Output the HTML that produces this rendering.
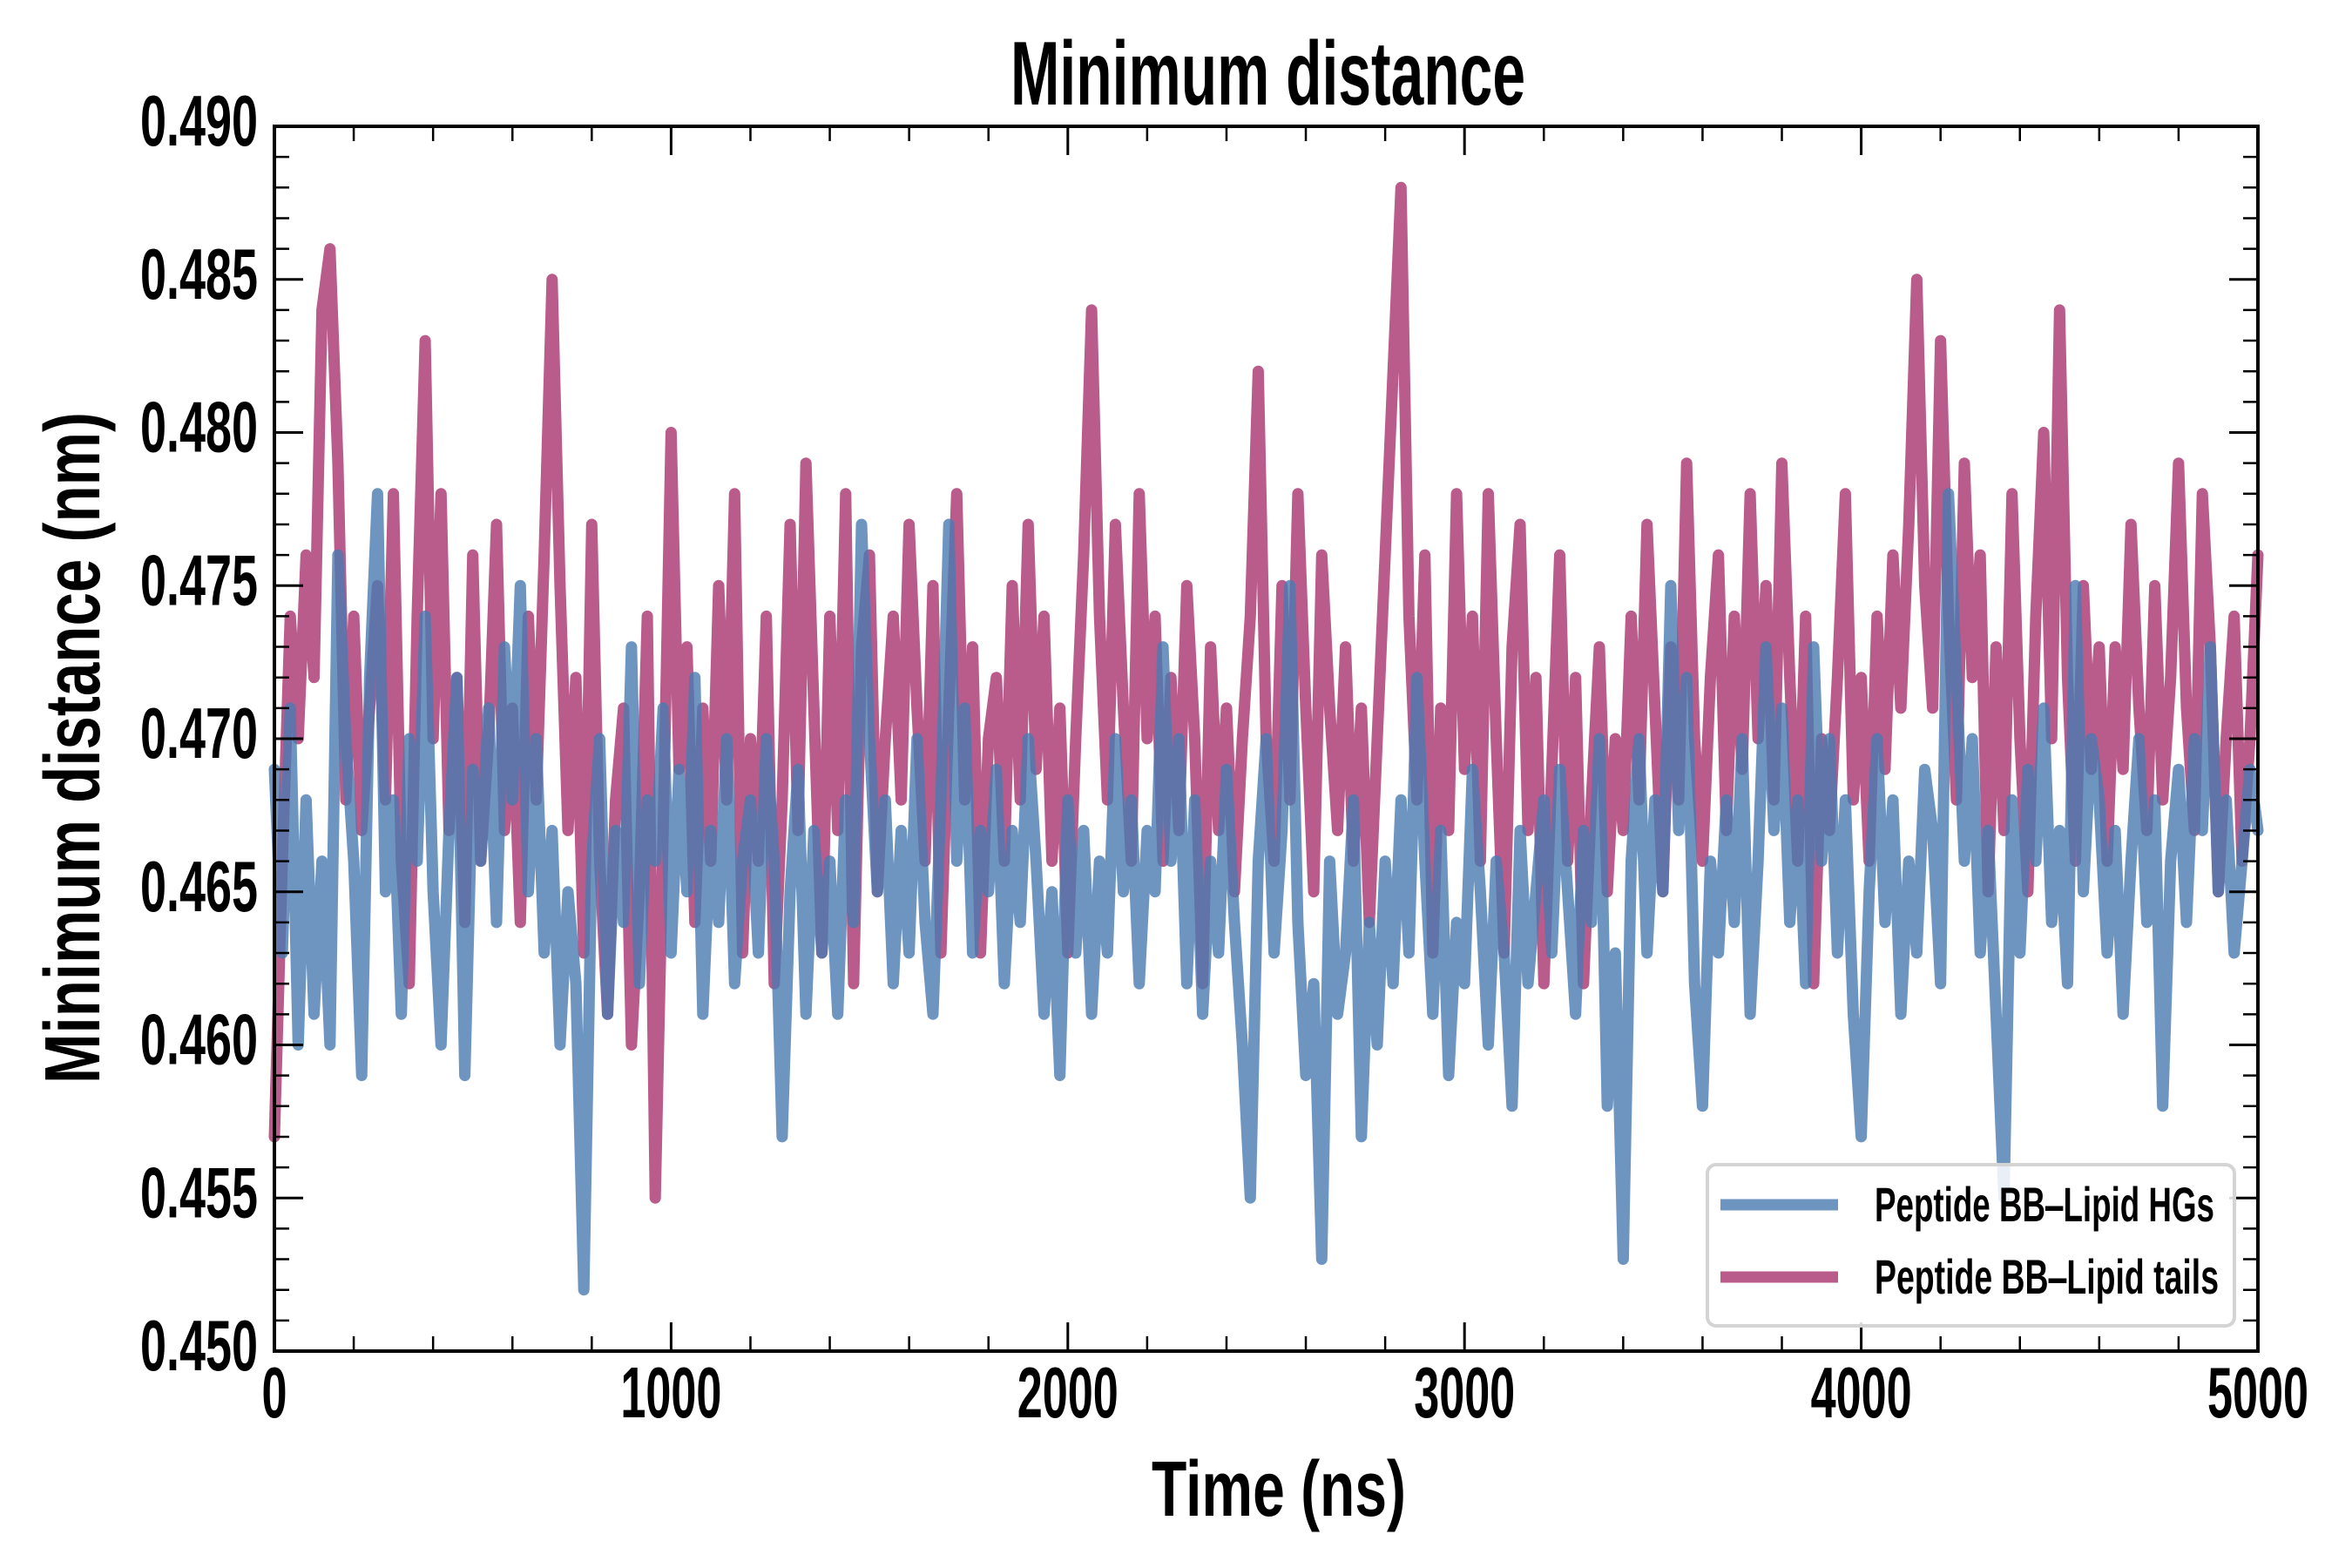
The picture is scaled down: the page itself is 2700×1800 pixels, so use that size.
<!DOCTYPE html>
<html><head><meta charset="utf-8"><style>html,body{margin:0;padding:0;background:#fff}svg{display:block}</style></head>
<body>
<svg id="chart" width="2700" height="1800" viewBox="0 0 2700 1800" xmlns="http://www.w3.org/2000/svg" font-family="'Liberation Sans', sans-serif" font-weight="bold">
<rect x="0" y="0" width="2700" height="1800" fill="#fff"/>
<g id="series"></g>
<g id="axes"></g>
<text x="1160" y="120" font-size="104" textLength="591" lengthAdjust="spacingAndGlyphs">Minimum distance</text>
<text x="1322" y="1740" font-size="90" textLength="292" lengthAdjust="spacingAndGlyphs">Time (ns)</text>
<text transform="translate(114,1244) rotate(-90)" x="0" y="0" font-size="90" textLength="771" lengthAdjust="spacingAndGlyphs">Minimum distance (nm)</text>
<g>
<rect x="1960" y="1337" width="605" height="185" rx="10" fill="rgba(255,255,255,0.85)" stroke="#d4d4d4" stroke-width="4"/>
<line x1="1975" y1="1383" x2="2110" y2="1383" stroke="#4a7bb0" stroke-width="13" stroke-opacity="0.8"/>
<text x="2152" y="1402" font-size="56" textLength="390" lengthAdjust="spacingAndGlyphs">Peptide BB‒Lipid HGs</text>
<line x1="1975" y1="1466" x2="2110" y2="1466" stroke="#a8326e" stroke-width="13" stroke-opacity="0.8"/>
<text x="2152" y="1485" font-size="56" textLength="395" lengthAdjust="spacingAndGlyphs">Peptide BB‒Lipid tails</text>
</g>
</svg>
<script>
const timeStep = 20;
const xTickValues = [0, 1000, 2000, 3000, 4000, 5000];
const xTickLabels = ["0", "1000", "2000", "3000", "4000", "5000"];
const yTickValues = [0.450, 0.455, 0.460, 0.465, 0.470, 0.475, 0.480, 0.485, 0.490];
const yTickLabels = ["0.450", "0.455", "0.460", "0.465", "0.470", "0.475", "0.480", "0.485", "0.490"];
const tailsValues = [
0.457,0.466,0.474,0.470,0.476,0.472,0.484,0.486,0.479,0.468,0.474,
0.467,0.471,0.475,0.468,0.478,0.466,0.462,0.474,0.483,0.470,
0.478,0.467,0.472,0.464,0.476,0.466,0.470,0.477,0.467,0.471,
0.464,0.474,0.468,0.476,0.485,0.475,0.467,0.472,0.463,0.477,
0.466,0.461,0.468,0.471,0.460,0.465,0.474,0.455,0.467,0.480,
0.469,0.473,0.464,0.471,0.466,0.475,0.468,0.478,0.463,0.470,
0.466,0.474,0.462,0.468,0.477,0.467,0.479,0.471,0.463,0.474,
0.467,0.478,0.462,0.473,0.476,0.465,0.470,0.474,0.468,0.477,
0.471,0.466,0.475,0.463,0.471,0.478,0.468,0.473,0.463,0.470,
0.472,0.466,0.475,0.468,0.477,0.469,0.474,0.466,0.471,0.463,
0.470,0.476,0.484,0.474,0.468,0.477,0.471,0.466,0.478,0.470,
0.474,0.466,0.472,0.467,0.475,0.470,0.462,0.473,0.467,0.471,
0.465,0.470,0.474,0.482,0.470,0.466,0.475,0.468,0.478,0.471,
0.465,0.476,0.471,0.467,0.473,0.466,0.471,0.464,0.470,0.476,
0.482,0.488,0.474,0.468,0.476,0.463,0.471,0.467,0.478,0.469,
0.474,0.466,0.478,0.470,0.463,0.473,0.477,0.467,0.472,0.462,
0.469,0.476,0.466,0.472,0.462,0.468,0.473,0.465,0.470,0.467,
0.474,0.468,0.477,0.471,0.465,0.473,0.468,0.479,0.470,0.466,
0.472,0.476,0.467,0.474,0.469,0.478,0.470,0.475,0.468,0.479,
0.472,0.466,0.474,0.462,0.470,0.467,0.472,0.478,0.468,0.472,
0.466,0.474,0.469,0.476,0.471,0.477,0.485,0.475,0.471,0.483,
0.474,0.468,0.479,0.472,0.476,0.465,0.473,0.467,0.478,0.470,
0.465,0.474,0.480,0.470,0.484,0.472,0.466,0.475,0.469,0.473,
0.466,0.473,0.469,0.477,0.471,0.467,0.475,0.468,0.472,0.479,
0.471,0.467,0.478,0.473,0.465,0.470,0.474,0.466,0.470,0.476];
const hgsValues = [
0.469,0.463,0.471,0.460,0.468,0.461,0.466,0.460,0.476,0.470,0.466,
0.459,0.472,0.478,0.465,0.468,0.461,0.470,0.466,0.474,0.465,
0.460,0.467,0.472,0.459,0.469,0.466,0.471,0.464,0.473,0.468,
0.475,0.465,0.470,0.463,0.467,0.460,0.465,0.462,0.452,0.466,
0.470,0.461,0.467,0.464,0.473,0.462,0.468,0.466,0.471,0.463,
0.469,0.465,0.472,0.461,0.467,0.464,0.470,0.462,0.466,0.468,
0.463,0.470,0.466,0.457,0.465,0.469,0.461,0.467,0.463,0.466,
0.461,0.468,0.464,0.477,0.470,0.465,0.468,0.462,0.467,0.463,
0.470,0.464,0.461,0.468,0.477,0.466,0.471,0.463,0.467,0.465,
0.469,0.462,0.467,0.464,0.470,0.466,0.461,0.465,0.459,0.468,
0.463,0.467,0.461,0.466,0.463,0.470,0.465,0.468,0.462,0.467,
0.465,0.473,0.466,0.470,0.462,0.468,0.461,0.466,0.463,0.469,
0.464,0.460,0.455,0.466,0.470,0.463,0.467,0.475,0.464,0.459,
0.462,0.453,0.466,0.461,0.463,0.468,0.457,0.464,0.460,0.466,
0.462,0.468,0.463,0.472,0.466,0.461,0.467,0.459,0.464,0.462,
0.469,0.465,0.460,0.466,0.463,0.458,0.467,0.462,0.465,0.468,
0.463,0.469,0.465,0.461,0.467,0.464,0.470,0.458,0.463,0.453,
0.466,0.470,0.463,0.468,0.465,0.475,0.467,0.472,0.462,0.458,
0.466,0.463,0.468,0.464,0.470,0.461,0.466,0.473,0.467,0.471,
0.464,0.468,0.462,0.473,0.466,0.470,0.463,0.468,0.461,0.457,
0.465,0.470,0.464,0.468,0.461,0.466,0.463,0.469,0.467,0.462,
0.478,0.472,0.466,0.470,0.463,0.467,0.461,0.455,0.468,0.463,
0.469,0.466,0.471,0.464,0.467,0.462,0.475,0.465,0.470,0.468,
0.463,0.467,0.461,0.466,0.470,0.464,0.468,0.458,0.466,0.469,
0.464,0.470,0.467,0.473,0.465,0.468,0.463,0.466,0.469,0.467];

const L = 315, R = 2592, T = 145, B = 1551;
const xMin = 0, xMax = 5000, yMin = 0.450, yMax = 0.490;
function xScale(v) { return L + (v - xMin) / (xMax - xMin) * (R - L); }
function yScale(v) { return B - (v - yMin) / (yMax - yMin) * (B - T); }
const NS = "http://www.w3.org/2000/svg";
const seriesG = document.getElementById('series');
const axesG = document.getElementById('axes');

function drawSeries(vals, color, name) {
  const pts = vals.map((v, i) => xScale(i * timeStep).toFixed(1) + ',' + yScale(v).toFixed(1)).join(' ');
  const pl = document.createElementNS(NS, 'polyline');
  pl.setAttribute('points', pts);
  pl.setAttribute('fill', 'none');
  pl.setAttribute('stroke', color);
  pl.setAttribute('stroke-width', '13');
  pl.setAttribute('stroke-opacity', '0.8');
  pl.setAttribute('stroke-linejoin', 'round');
  pl.setAttribute('stroke-linecap', 'round');
  
  
  seriesG.appendChild(pl);
}
drawSeries(tailsValues, '#a8326e', 'line-lipid-tails');
drawSeries(hgsValues, '#4a7bb0', 'line-lipid-hgs');

function mkLine(x1, y1, x2, y2, w, name) {
  const l = document.createElementNS(NS, 'line');
  l.setAttribute('x1', x1); l.setAttribute('y1', y1);
  l.setAttribute('x2', x2); l.setAttribute('y2', y2);
  l.setAttribute('stroke', '#000');
  l.setAttribute('stroke-width', w);
  
  
  axesG.appendChild(l);
}
for (let v = 0; v <= 5000; v += 200) {
  if (v % 1000 === 0) continue;
  const x = xScale(v);
  mkLine(x, B, x, B - 17, 2.5, 'x-minor-tick');
  mkLine(x, T, x, T + 17, 2.5, 'x-minor-tick-top');
}
for (let k = 0; k <= 40; k++) {
  if (k % 5 === 0) continue;
  const y = yScale(yMin + k * 0.001);
  mkLine(L, y, L + 17, y, 2.5, 'y-minor-tick');
  mkLine(R, y, R - 17, y, 2.5, 'y-minor-tick-right');
}
xTickValues.forEach((v, i) => {
  const x = xScale(v);
  mkLine(x, B, x, B - 33, 3, 'x-major-tick');
  mkLine(x, T, x, T + 33, 3, 'x-major-tick-top');
  const t = document.createElementNS(NS, 'text');
  t.setAttribute('x', x); t.setAttribute('y', 1627);
  t.setAttribute('text-anchor', 'middle');
  t.setAttribute('font-size', '83');
  t.setAttribute('textLength', String(29 * xTickLabels[i].length));
  t.setAttribute('lengthAdjust', 'spacingAndGlyphs');
  
  
  t.textContent = xTickLabels[i];
  axesG.appendChild(t);
});
yTickValues.forEach((v, i) => {
  const y = yScale(v);
  mkLine(L, y, L + 33, y, 3, 'y-major-tick');
  mkLine(R, y, R - 33, y, 3, 'y-major-tick-right');
  const t = document.createElementNS(NS, 'text');
  t.setAttribute('x', 296); t.setAttribute('y', y + 22);
  t.setAttribute('text-anchor', 'end');
  t.setAttribute('font-size', '83');
  t.setAttribute('textLength', '135');
  t.setAttribute('lengthAdjust', 'spacingAndGlyphs');
  
  
  t.textContent = yTickLabels[i];
  axesG.appendChild(t);
});
const frame = document.createElementNS(NS, 'rect');
frame.setAttribute('x', L); frame.setAttribute('y', T);
frame.setAttribute('width', R - L); frame.setAttribute('height', B - T);
frame.setAttribute('fill', 'none');
frame.setAttribute('stroke', '#000');
frame.setAttribute('stroke-width', '4');


axesG.appendChild(frame);
</script>
</body></html>
